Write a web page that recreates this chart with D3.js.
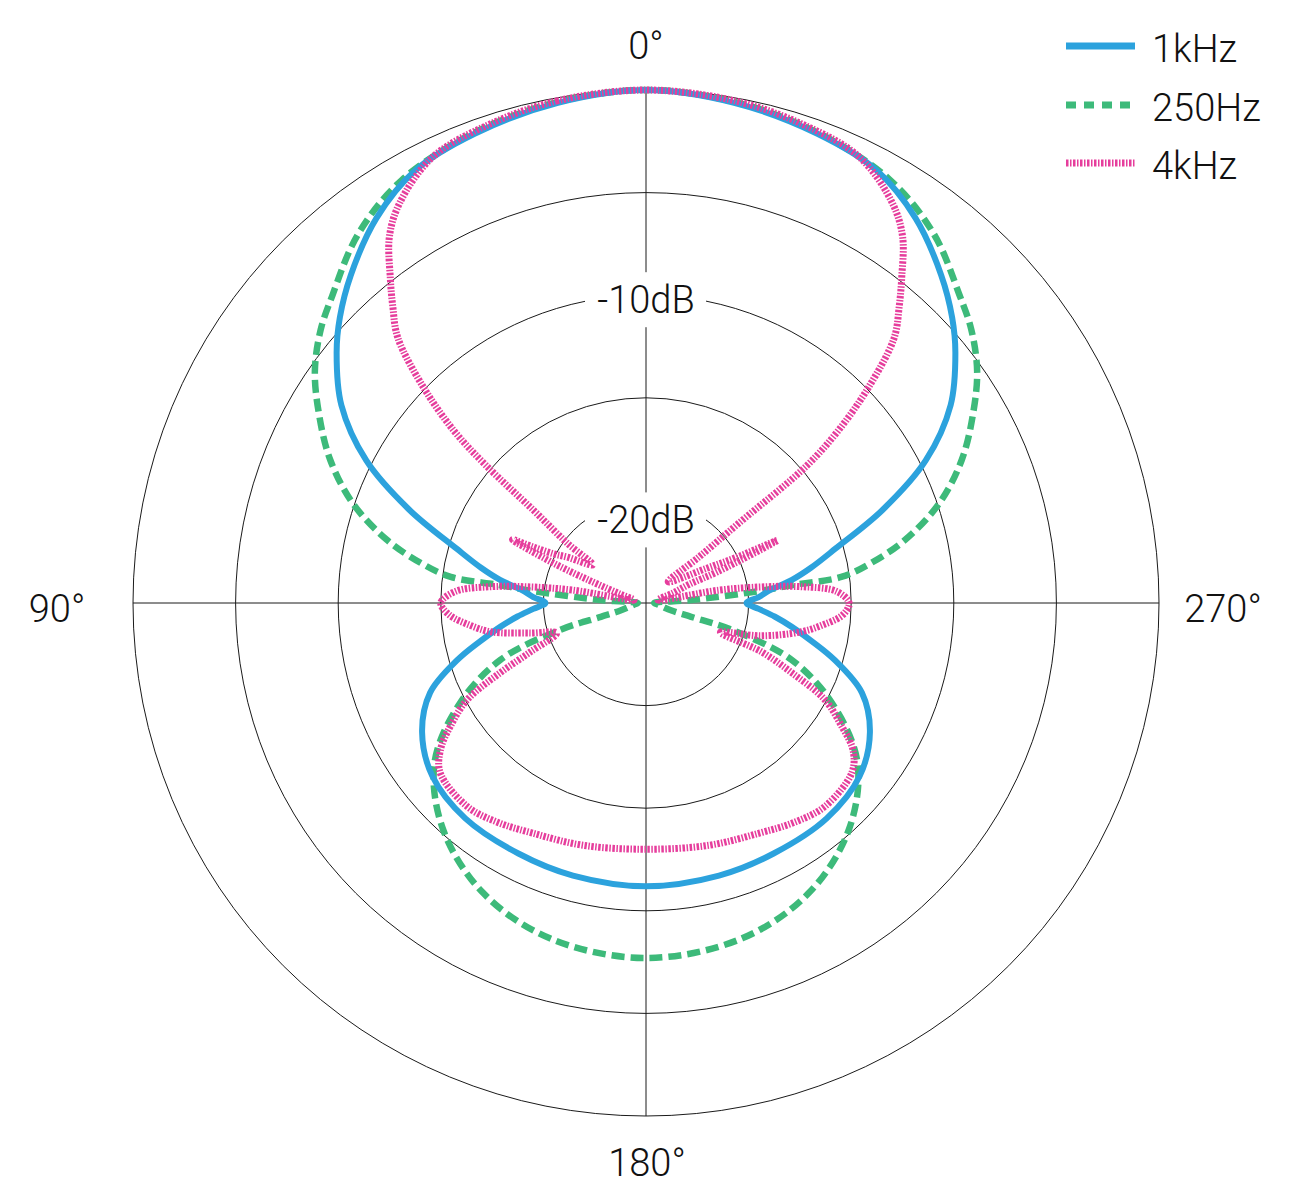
<!DOCTYPE html>
<html>
<head>
<meta charset="utf-8">
<script src="https://cdn.jsdelivr.net/npm/d3@7"></script>
<style>
  html, body { margin: 0; padding: 0; background: #fff; }
  svg text { font-family: "Helvetica Neue", Roboto, "Liberation Sans", Arial, sans-serif; font-weight: 300; fill: #111; }
</style>
</head>
<body>
<svg id="chart" width="1293" height="1200"></svg>
<script>
// ---------- DATA ----------
const seriesNames = ["1kHz", "250Hz", "4kHz"];

// angles in degrees, counter-clockwise from 0° (top); 90° = left
const angles1k = [0,10,20,28,35,42,47,51,57,63,68.5,74,78,81,84,87,90,93,96,99.3,103,106.8,112.6,120,129,140,153,165,180,
  195,207,220,231,240,247.4,253.2,257,260.7,264,267,270,273,276,279,282,286,291.5,297,303,309,313,318,325,332,340,350];
const db1k = [0,-0.25,-0.65,-1.1,-2.1,-3.5,-4.6,-5.6,-7.3,-9.7,-12.6,-15.4,-16.8,-17.8,-18.9,-19.5,-20.1,-19.5,-18.7,-17.8,-16.7,-15.4,-13.6,-12.4,-11.6,-11.3,-11.3,-11.25,-11.2,
  -11.25,-11.3,-11.3,-11.6,-12.4,-13.6,-15.4,-16.7,-17.8,-18.7,-19.5,-20.1,-19.5,-18.9,-17.8,-16.8,-15.4,-12.6,-9.7,-7.3,-5.6,-4.6,-3.5,-2.1,-1.1,-0.65,-0.25];

const angles250 = [0,10,20,30,38,45.6,50,55,60,65.6,71.2,76.3,80,82.4,83,84,86.3,90,98,106.5,107,107.4,111.3,118.3,127,138,150.6,164,180,
  196,209.4,222,233,241.7,248.7,252.6,253,253.5,262,270,273.7,276,277,277.6,280,283.7,288.8,294.4,300,305,310,314.4,322,330,340,350];
const db250 = [0,-0.2,-0.6,-1.2,-2.2,-3.6,-4.3,-5.3,-6.6,-8.1,-9.9,-12.0,-13.9,-15.4,-17.8,-19.5,-22.8,-24.6,-24.4,-23.7,-22.7,-20.6,-17.4,-14.7,-12.1,-10.2,-8.8,-8.0,-7.7,
  -8.0,-8.8,-10.2,-12.1,-14.7,-17.4,-20.6,-22.7,-23.7,-24.4,-24.6,-22.8,-19.5,-17.8,-15.4,-13.9,-12.0,-9.9,-8.1,-6.6,-5.3,-4.3,-3.6,-2.2,-1.2,-0.6,-0.2];

const angles4k = [0,10,18,25.5,31.6,35,38.1,40.5,43.1,45.9,48.1,49.3,50.5,52.8,54.4,59.8,62,63.6,64.6,66.7,68.4,70.9,76,80,82,84,86.5,90,93.5,97,100.5,104.5,108.6,112.9,115.6,118.4,122,125.5,129.5,138.7,146,153.8,165.4,180,
  194.6,206.2,214,221.3,230.5,234.5,238,241.6,244.4,247.1,248.5,254,259.5,263,266.5,270,273.5,276,278,280,284,290.3,293.4,293.6,295.5,296.6,299.8,313.7,311,310.7,310.5,311.9,314.1,316.9,319.5,321.9,325,328.4,334.5,342,350];
const db4k = [0,-0.15,-0.45,-0.9,-2.1,-3.2,-4.8,-6.0,-7.3,-9.9,-12.4,-14.7,-17.9,-20.2,-21.8,-20.55,-19.9,-18.85,-17.8,-20.1,-22.2,-23.66,-24.4,-21.4,-19.4,-17.4,-15.7,-15.0,-15.4,-16.3,-17.3,-19.15,-20.4,-18.9,-17.1,-15.1,-13.8,-12.7,-12.0,-11.8,-12.1,-12.5,-12.8,-13.0,
  -12.8,-12.5,-12.1,-11.8,-12.0,-12.6,-13.8,-15.1,-17.1,-18.9,-21.1,-19.2,-17.3,-16.3,-15.4,-15.1,-15.7,-17.4,-19.4,-21.4,-24.4,-23.6,-22.7,-21.2,-17.9,-19.9,-21.6,-23.5,-21.6,-19.0,-14.7,-12.4,-9.9,-7.3,-6.0,-4.8,-3.2,-2.1,-0.9,-0.45,-0.15];

const gridDb = [-20, -15, -10, -5, 0];
const dbLabels = ["-10dB", "-20dB"];
const dbLabelValues = [-10, -20];
const axisAngles = [0, 90, 180, 270];
const axisLabels = ["0°", "90°", "180°", "270°"];

// ---------- DRAWING ----------
const svg = d3.select("#chart");
const cx = 646, cy = 603, R = 513;
const rScale = d3.scaleLinear().domain([-25, 0]).range([0, R]);
const aScale = d3.scaleLinear().domain([0, 360]).range([0, -2 * Math.PI]);

const g = svg.append("g").attr("transform", `translate(${cx},${cy})`);

// grid circles
g.selectAll("circle.grid").data(gridDb).join("circle")
  .attr("class", "grid").attr("r", d => rScale(d))
  .attr("fill", "none").attr("stroke", "#1a1a1a").attr("stroke-width", 1);

// spokes
g.selectAll("line.spoke").data(axisAngles).join("line")
  .attr("class", "spoke")
  .attr("x1", 0).attr("y1", 0)
  .attr("x2", d => R * Math.sin(aScale(d)))
  .attr("y2", d => -R * Math.cos(aScale(d)))
  .attr("stroke", "#1a1a1a").attr("stroke-width", 1);

// dB label gaps + labels
const labelShift = { "-10": 18, "-20": 33 };
dbLabelValues.forEach((v, i) => {
  const base = -rScale(v) + labelShift[String(v)];
  g.append("rect").attr("x", -61).attr("y", base - 41).attr("width", 121).attr("height", 55).attr("fill", "#fff");
  g.append("text").attr("x", 0).attr("y", base)
    .attr("text-anchor", "middle").attr("font-size", 38).text(dbLabels[i]);
});

// angle labels
const angPos = [
  { x: cx, y: 59, anchor: "middle" },
  { x: 57, y: 622, anchor: "middle" },
  { x: cx + 1, y: 1176, anchor: "middle" },
  { x: 1223, y: 622, anchor: "middle" }
];
axisLabels.forEach((t, i) => {
  svg.append("text").attr("x", angPos[i].x).attr("y", angPos[i].y)
    .attr("text-anchor", angPos[i].anchor).attr("font-size", 38).text(t);
});

// series
const colors = ["#2ca2dd", "#3dba7a", "#e63d9c"];
const dashes = [null, "13,6", "2.5,1.5,1.5,1.5"];
const widths = [6, 6.5, 7];
const seriesData = [
  angles1k.map((a, i) => [a, db1k[i]]),
  angles250.map((a, i) => [a, db250[i]]),
  angles4k.map((a, i) => [a, db4k[i]])
];

const line = d3.lineRadial()
  .angle(d => aScale(d[0]))
  .radius(d => rScale(d[1]))
  .curve(d3.curveCatmullRomClosed.alpha(0.5));

const order = [1, 0, 2];
order.forEach(i => {
  g.append("path").datum(seriesData[i])
    .attr("d", line)
    .attr("fill", "none")
    .attr("stroke", colors[i])
    .attr("stroke-width", widths[i])
    .attr("stroke-dasharray", dashes[i])
    .attr("stroke-linejoin", "miter")
    .attr("stroke-miterlimit", 4);
});

// legend
const legendY = [46, 105, 163];
const legendDash = [null, "10,8", "2.5,1.5,1.5,1.5"];
seriesNames.forEach((name, i) => {
  svg.append("line").attr("x1", 1066).attr("x2", 1135)
    .attr("y1", legendY[i]).attr("y2", legendY[i])
    .attr("stroke", colors[i]).attr("stroke-width", 7)
    .attr("stroke-dasharray", legendDash[i]);
  svg.append("text").attr("x", 1152).attr("y", legendY[i] + 16)
    .attr("font-size", 38).text(name);
});
</script>
</body>
</html>
